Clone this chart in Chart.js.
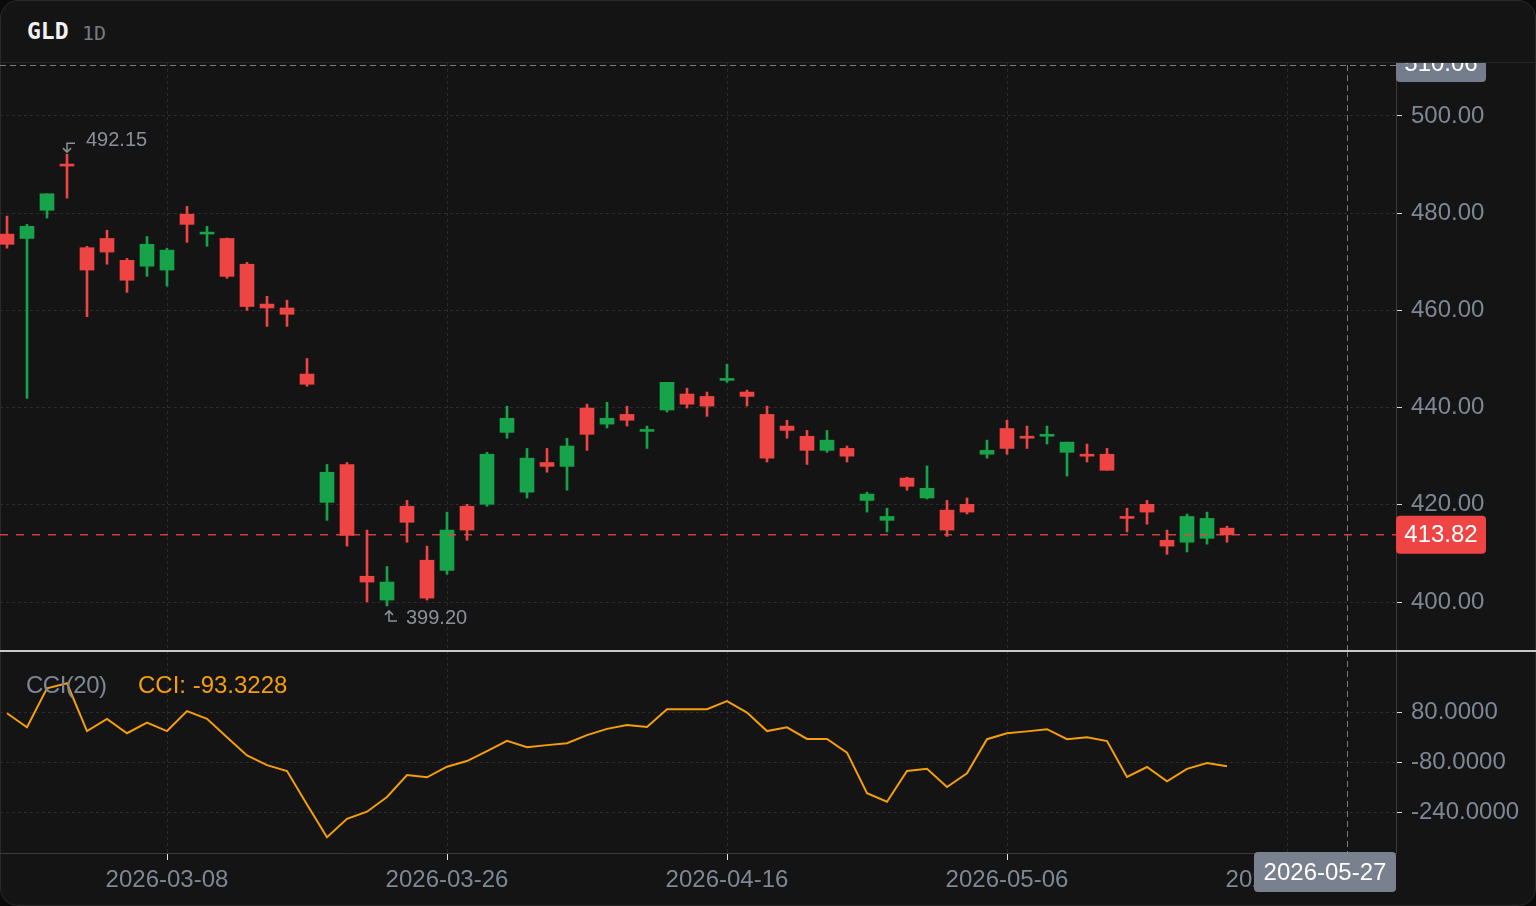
<!DOCTYPE html>
<html>
<head>
<meta charset="utf-8">
<title>GLD 1D</title>
<script src="https://cdn.jsdelivr.net/npm/chart.js@4.4.1/dist/chart.umd.min.js"></script>
<style>
    html, body { margin: 0; padding: 0; width: 1536px; height: 906px; overflow: hidden; background: #0a0a0a; }
    #card { position: absolute; left: 0; top: 0; width: 1534px; height: 904px; border: 1px solid #2a2a2a; border-radius: 18px; background: #141414; }
    #hdrLine { position: absolute; left: 0; top: 62px; width: 1536px; height: 1px; background: #262626; }
    #sym { position: absolute; left: 27px; top: 18px; font: bold 23px 'DejaVu Sans Mono', monospace; color: #f2f2f2; }
    #tf { position: absolute; left: 82px; top: 21px; font: 20px 'DejaVu Sans Mono', monospace; color: #767a82; }
    #price { position: absolute; left: 0; top: 63px; }
    #cci { position: absolute; left: 0; top: 651px; }
    #sep { position: absolute; left: 0; top: 650px; width: 1536px; height: 2px; background: #c9c9c9; }
    .leg { position: absolute; top: 671px; font: 24px 'Liberation Sans', Arial, sans-serif; white-space: pre; }
    #legName { left: 26px; color: #7e8796; letter-spacing: -0.5px; }
    #legVal { left: 138px; color: #f59e0b; }
</style>
</head>
<body>
<div id="card"></div>
<div id="hdrLine"></div>
<div id="sym">GLD</div>
<div id="tf">1D</div>
<canvas id="price" width="1536" height="588"></canvas>
<canvas id="cci" width="1536" height="255"></canvas>
<div id="sep"></div>
<div class="leg" id="legName">CCI(20)</div>
<div class="leg" id="legVal">CCI: -93.3228</div>
<script>
// daily candles, GLD
const dates = [
    '2026-02-25', '2026-02-26', '2026-02-27', '2026-03-02', '2026-03-03', '2026-03-04', '2026-03-05', '2026-03-06',
    '2026-03-08', '2026-03-09', '2026-03-10', '2026-03-11', '2026-03-12', '2026-03-13', '2026-03-16', '2026-03-17',
    '2026-03-18', '2026-03-19', '2026-03-20', '2026-03-23', '2026-03-24', '2026-03-25', '2026-03-26', '2026-03-27',
    '2026-03-30', '2026-03-31', '2026-04-01', '2026-04-02', '2026-04-06', '2026-04-07', '2026-04-08', '2026-04-09',
    '2026-04-10', '2026-04-13', '2026-04-14', '2026-04-15', '2026-04-16', '2026-04-17', '2026-04-20', '2026-04-21',
    '2026-04-22', '2026-04-23', '2026-04-24', '2026-04-27', '2026-04-28', '2026-04-29', '2026-04-30', '2026-05-01',
    '2026-05-04', '2026-05-05', '2026-05-06', '2026-05-07', '2026-05-08', '2026-05-11', '2026-05-12', '2026-05-13',
    '2026-05-14', '2026-05-15', '2026-05-18', '2026-05-19', '2026-05-20', '2026-05-21',
    '2026-05-22', '2026-05-23', '2026-05-24', '2026-05-25', '2026-05-26', '2026-05-27', '2026-05-28', '2026-05-29'
];

const opens = [
    475.7, 474.8, 480.6, 490.1, 472.9, 474.8, 470.3, 469.1, 468.3, 479.8,
    475.7, 474.8, 469.5, 461.3, 460.5, 446.9, 420.5, 428.3, 405.3, 400.4,
    419.7, 408.6, 406.5, 419.7, 420.1, 434.9, 422.6, 428.7, 427.9, 439.9,
    436.6, 438.6, 435.1, 439.5, 442.8, 442.3, 445.6, 443.2, 438.6, 436.2,
    434.1, 431.2, 431.6, 420.9, 416.8, 425.5, 421.4, 418.9, 420.1, 430.4,
    435.7, 434.1, 434.1, 430.8, 430.4, 430.4, 417.6, 420.1, 412.7, 412.3,
    413.1, 415.2
];
const highs = [
    479.4, 477.7, 484.0, 492.15, 473.2, 476.5, 470.7, 475.2, 472.8, 481.4,
    477.3, 474.9, 469.9, 462.9, 462.1, 450.1, 428.3, 428.7, 414.8, 407.3,
    420.9, 411.5, 418.5, 420.1, 430.8, 440.3, 431.6, 431.6, 433.7, 440.7,
    441.1, 440.3, 436.2, 445.2, 444.0, 443.2, 448.9, 443.6, 440.3, 437.4,
    435.3, 435.3, 432.1, 422.6, 419.3, 425.7, 428.0, 420.9, 421.4, 433.3,
    437.4, 436.2, 436.2, 432.9, 432.5, 431.6, 419.3, 420.9, 414.8, 418.1,
    418.5, 415.6
];
const lows = [
    472.8, 441.9, 479.0, 483.1, 458.7, 469.5, 463.7, 467.0, 465.0, 474.0,
    473.2, 466.6, 460.0, 456.7, 456.7, 444.4, 416.8, 411.5, 400.0, 399.2,
    412.3, 400.4, 405.7, 412.7, 419.7, 433.7, 421.4, 426.7, 423.0, 431.2,
    435.8, 436.2, 431.6, 439.1, 439.9, 438.2, 445.2, 440.3, 428.8, 433.7,
    428.3, 430.8, 428.8, 418.5, 414.4, 423.0, 421.2, 413.5, 418.1, 429.6,
    430.4, 431.6, 432.5, 425.9, 428.8, 427.1, 414.4, 416.0, 409.8, 410.3,
    411.9, 412.3
];
const closes = [
    473.6, 477.3, 484.0, 489.7, 468.3, 472.0, 466.2, 473.6, 472.4, 477.7,
    476.1, 467.0, 460.8, 460.5, 459.2, 444.8, 426.7, 413.7, 404.1, 404.1,
    416.4, 400.8, 414.8, 414.8, 430.4, 437.8, 429.6, 427.9, 432.1, 434.5,
    437.8, 437.4, 435.5, 445.2, 440.7, 440.3, 446.0, 442.3, 429.6, 435.3,
    431.2, 433.3, 430.0, 422.2, 417.6, 423.8, 423.4, 414.8, 418.5, 431.2,
    431.6, 433.7, 434.5, 432.9, 430.0, 427.1, 417.2, 418.5, 411.5, 417.6,
    417.2, 413.82
];

// CCI(20)
const cciValues = [
    76, 31, 156, 172, 19, 58, 12, 46, 19, 83,
    58, -1, -59, -90, -109, -216, -321, -262, -239, -192,
    -122, -129, -95, -77, -45, -12, -33, -26, -20, 6,
    26, 38, 32, 89, 89, 89, 115, 78, 19, 31,
    -6, -6, -50, -180, -207, -109, -102, -160, -116, -7,
    12, 18, 25, -7, -1, -13, -128, -96, -142, -102,
    -83, -93.3228
];

const tickIdx = [8, 22, 36, 50, 64];
const priceTicks = [400, 420, 440, 460, 480, 500];
const cciTicks = [-240, -80, 80];

const lastPrice = 413.82;
const crossIdx = 67;
const crossPrice = 510.06;
const hiIdx = 3, hiVal = 492.15;
const loIdx = 19, loVal = 399.20;

const UP = '#16a34a';
const DOWN = '#ef4444';
const FONT = "'Liberation Sans', Arial, sans-serif";
const AXIS_TXT = '#7e8796';
const GRID = '#2c2c2c';
const X_MIN = -0.35, X_MAX = 69.45;

const candleColors = opens.map((o, i) => closes[i] >= o ? UP : DOWN);
const bodies = opens.map((o, i) => ({ x: i, y: [o, closes[i]] }));
const wicks = lows.map((l, i) => ({ x: i, y: [l, highs[i]] }));

function roundRect(ctx, x, y, w, h, r) {
    ctx.beginPath();
    ctx.moveTo(x + r, y);
    ctx.lineTo(x + w - r, y);
    ctx.quadraticCurveTo(x + w, y, x + w, y + r);
    ctx.lineTo(x + w, y + h - r);
    ctx.quadraticCurveTo(x + w, y + h, x + w - r, y + h);
    ctx.lineTo(x + r, y + h);
    ctx.quadraticCurveTo(x, y + h, x, y + h - r);
    ctx.lineTo(x, y + r);
    ctx.quadraticCurveTo(x, y, x + r, y);
    ctx.closePath();
}

// chart.js reserves room for half of the edge labels; the panes here run edge to edge
function noEdgePad(s) {
    s.paddingTop = 0;
    s.paddingBottom = 0;
    s.paddingLeft = 0;
    s.paddingRight = 0;
}

const priceDecor = {
    id: 'priceDecor',
    afterDraw(chart) {
        const { ctx, chartArea, scales: { x, y } } = chart;
        ctx.save();

        // last price line
        const ly = y.getPixelForValue(lastPrice);
        ctx.strokeStyle = 'rgba(239, 68, 68, 0.85)';
        ctx.lineWidth = 1.5;
        ctx.setLineDash([8, 8]);
        ctx.beginPath();
        ctx.moveTo(chartArea.left, ly);
        ctx.lineTo(chartArea.right, ly);
        ctx.stroke();

        // crosshair
        const cx = x.getPixelForValue(crossIdx);
        const cy = y.getPixelForValue(crossPrice) - 2;
        ctx.strokeStyle = '#7a7a7a';
        ctx.lineWidth = 1;
        ctx.setLineDash([6, 4]);
        ctx.beginPath();
        ctx.moveTo(chartArea.left, Math.round(cy) + 0.5);
        ctx.lineTo(chartArea.right, Math.round(cy) + 0.5);
        ctx.moveTo(Math.round(cx) + 0.5, cy);
        ctx.lineTo(Math.round(cx) + 0.5, chartArea.bottom);
        ctx.stroke();
        ctx.setLineDash([]);

        ctx.font = '24px ' + FONT;
        ctx.textAlign = 'center';
        ctx.textBaseline = 'middle';

        ctx.fillStyle = DOWN;
        roundRect(ctx, chartArea.right, ly - 19, 90, 38, 4);
        ctx.fill();
        ctx.fillStyle = '#ffffff';
        ctx.fillText(lastPrice.toFixed(2), chartArea.right + 45, ly + 1);

        ctx.fillStyle = '#747d8c';
        roundRect(ctx, chartArea.right, cy - 21, 90, 38, 4);
        ctx.fill();
        ctx.fillStyle = '#ffffff';
        ctx.fillText(crossPrice.toFixed(2), chartArea.right + 45, cy - 1);

        // high / low markers
        ctx.strokeStyle = '#8a909a';
        ctx.fillStyle = '#8a909a';
        ctx.lineWidth = 1.5;
        const hx = x.getPixelForValue(hiIdx);
        const hy = y.getPixelForValue(hiVal);
        ctx.beginPath();
        ctx.moveTo(hx + 8, hy - 11);
        ctx.lineTo(hx, hy - 11);
        ctx.lineTo(hx, hy - 2);
        ctx.moveTo(hx - 4, hy - 6);
        ctx.lineTo(hx, hy - 2);
        ctx.lineTo(hx + 4, hy - 6);
        ctx.stroke();
        ctx.font = '20px ' + FONT;
        ctx.textAlign = 'left';
        ctx.fillText(hiVal.toFixed(2), hx + 19, hy - 14);

        const lx = x.getPixelForValue(loIdx) + 2;
        const lyy = y.getPixelForValue(loVal);
        ctx.beginPath();
        ctx.moveTo(lx + 8, lyy + 15);
        ctx.lineTo(lx, lyy + 15);
        ctx.lineTo(lx, lyy + 5);
        ctx.moveTo(lx - 4, lyy + 9);
        ctx.lineTo(lx, lyy + 5);
        ctx.lineTo(lx + 4, lyy + 9);
        ctx.stroke();
        ctx.fillText(loVal.toFixed(2), lx + 17, lyy + 13);

        ctx.restore();
    }
};

const cciDecor = {
    id: 'cciDecor',
    afterDraw(chart) {
        const { ctx, chartArea, scales: { x } } = chart;
        const cx = Math.round(x.getPixelForValue(crossIdx)) + 0.5;
        ctx.save();
        ctx.strokeStyle = '#7a7a7a';
        ctx.lineWidth = 1;
        ctx.setLineDash([6, 4]);
        ctx.beginPath();
        ctx.moveTo(cx, chartArea.top);
        ctx.lineTo(cx, chartArea.bottom);
        ctx.stroke();
        ctx.setLineDash([]);

        const w = 142;
        let bx = cx - w / 2;
        if (bx + w > chartArea.right) bx = chartArea.right - w;
        ctx.fillStyle = '#79818f';
        roundRect(ctx, bx, chartArea.bottom - 1, w, 40, 4);
        ctx.fill();
        ctx.fillStyle = '#ffffff';
        ctx.font = '24px ' + FONT;
        ctx.textAlign = 'center';
        ctx.textBaseline = 'middle';
        ctx.fillText(dates[crossIdx], bx + w / 2, chartArea.bottom + 20);
        ctx.restore();
    }
};

Chart.defaults.font.family = FONT;

new Chart(document.getElementById('price'), {
    type: 'bar',
    data: {
        datasets: [
            {
                label: 'body',
                data: bodies,
                backgroundColor: candleColors,
                barThickness: 14,
                minBarLength: 2,
                grouped: false,
                order: 1
            },
            {
                label: 'wick',
                data: wicks,
                backgroundColor: candleColors,
                barThickness: 2,
                grouped: false,
                order: 2
            }
        ]
    },
    options: {
        responsive: false,
        animation: false,
        layout: { padding: 0 },
        plugins: { legend: { display: false }, tooltip: { enabled: false } },
        scales: {
            x: {
                type: 'linear',
                min: X_MIN,
                max: X_MAX,
                offset: false,
                grid: { offset: false, color: GRID, drawTicks: false },
                border: { display: false, dash: [3, 3] },
                ticks: { display: false },
                afterBuildTicks: s => { s.ticks = tickIdx.map(v => ({ value: v })); },
                afterFit: s => { s.height = 0; noEdgePad(s); }
            },
            y: {
                position: 'right',
                min: 389.918,
                max: 510.905,
                grid: { color: GRID, tickColor: '#d8d8d8', tickLength: 6 },
                border: { color: '#3c3c3c', dash: [3, 3] },
                ticks: {
                    color: AXIS_TXT,
                    font: { size: 24 },
                    padding: 9,
                    callback: v => Number(v).toFixed(2)
                },
                afterBuildTicks: s => { s.ticks = priceTicks.map(v => ({ value: v })); },
                afterFit: s => { s.width = 140; noEdgePad(s); }
            }
        }
    },
    plugins: [priceDecor]
});

new Chart(document.getElementById('cci'), {
    type: 'line',
    data: {
        datasets: [{
            label: 'CCI',
            data: cciValues.map((v, i) => ({ x: i, y: v })),
            borderColor: '#f59e0b',
            borderWidth: 2,
            pointRadius: 0,
            tension: 0,
            fill: false
        }]
    },
    options: {
        responsive: false,
        animation: false,
        layout: { padding: 0 },
        plugins: { legend: { display: false }, tooltip: { enabled: false } },
        scales: {
            x: {
                type: 'linear',
                min: X_MIN,
                max: X_MAX,
                offset: false,
                grid: { color: GRID, tickColor: '#e0e0e0', tickLength: 7 },
                border: { color: '#3a3a3a', dash: [3, 3] },
                ticks: {
                    color: AXIS_TXT,
                    font: { size: 24 },
                    padding: 6,
                    autoSkip: false,
                    maxRotation: 0,
                    callback: v => dates[v]
                },
                afterBuildTicks: s => { s.ticks = tickIdx.map(v => ({ value: v })); },
                afterFit: s => { s.height = 53; noEdgePad(s); }
            },
            y: {
                position: 'right',
                min: -371.2,
                max: 275.2,
                grid: { color: GRID, tickColor: '#d8d8d8', tickLength: 6 },
                border: { color: '#3c3c3c', dash: [3, 3] },
                ticks: {
                    color: AXIS_TXT,
                    font: { size: 24 },
                    padding: 9,
                    callback: v => Number(v).toFixed(4)
                },
                afterBuildTicks: s => { s.ticks = cciTicks.map(v => ({ value: v })); },
                afterFit: s => { s.width = 140; noEdgePad(s); }
            }
        }
    },
    plugins: [cciDecor]
});
</script>
</body>
</html>
